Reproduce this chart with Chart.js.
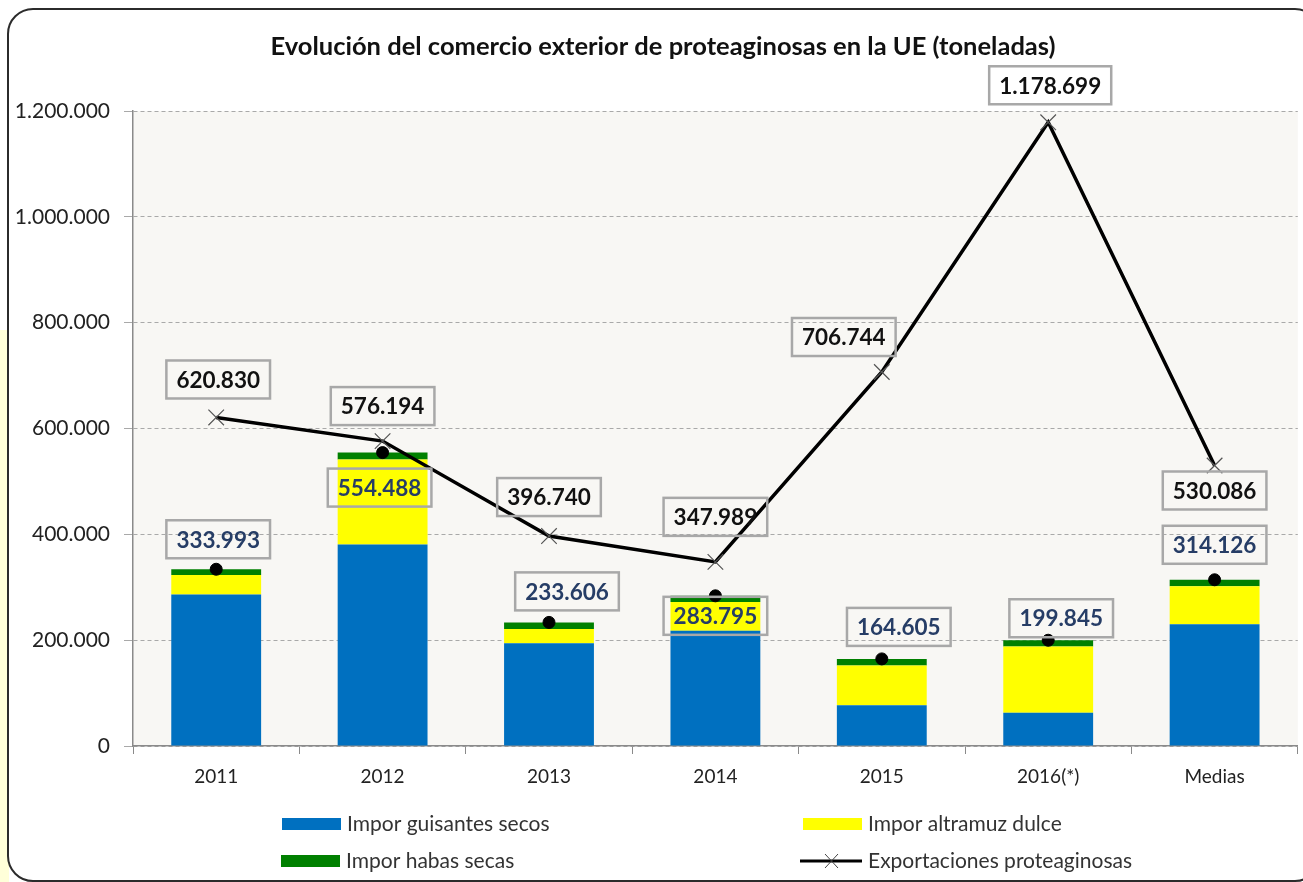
<!DOCTYPE html>
<html>
<head>
<meta charset="utf-8">
<script src="https://cdn.jsdelivr.net/npm/chart.js@4"></script>
<style>
  html, body { margin: 0; padding: 0; background: #fff; overflow: hidden; }
  #strip { position: absolute; left: 0; top: 330px; width: 9px; bottom: 0; background: #ffffd9; }
  #frame { position: absolute; left: 7px; top: 8px; width: 1310px; height: 870px;
           border: 2px solid #2b2b2b; border-radius: 26px; background: #fff; }
  #chart { position: absolute; left: 0; top: 0; }
</style>
</head>
<body>
<div id="strip"></div>
<div id="frame"></div>
<canvas id="chart" width="1310" height="882"></canvas>
<script>
// ===== DATA =====
const years      = ['2011', '2012', '2013', '2014', '2015', '2016(*)', 'Medias'];
const guisantes  = [286500, 381000, 194000, 218000, 77000, 63000, 230000];
const altramuz   = [36500, 160500, 27000, 54000, 75000, 125000, 72000];
const habas      = [10993, 12988, 12606, 11795, 12605, 11845, 12126];
const totalImpor = [333993, 554488, 233606, 283795, 164605, 199845, 314126];
const exportac   = [620830, 576194, 396740, 347989, 706744, 1178699, 530086];
const yTicks     = [0, 200000, 400000, 600000, 800000, 1000000, 1200000];

// label box offsets from their point (px)
const totalOffsets  = [[2, -30], [-3, 35], [18, -31], [0, 20], [17, -32], [13, -22], [0, -35]];
const exportOffsets = [[2, -38], [0, -35], [0, -39], [0, -45], [-38, -35], [2, -37], [0, 25]];

const FONT = 'Lato, "Open Sans", sans-serif';
const PLOT_BG = '#f8f7f4';

function fmt(n) {
  return String(n).replace(/\B(?=(\d{3})+(?!\d))/g, '.');
}

// ===== PLUGINS =====
const plotBg = {
  id: 'plotBg',
  beforeDraw(chart) {
    const { ctx, chartArea: a } = chart;
    ctx.save();
    ctx.fillStyle = PLOT_BG;
    ctx.fillRect(a.left, a.top, a.right - a.left, a.bottom - a.top);
    ctx.restore();
  }
};

function drawBoxLabels(chart, dsIndex, offsets, color) {
  const { ctx } = chart;
  const meta = chart.getDatasetMeta(dsIndex);
  const data = chart.data.datasets[dsIndex].data;
  ctx.save();
  ctx.font = 'bold 22.5px ' + FONT;
  ctx.textAlign = 'center';
  ctx.textBaseline = 'middle';
  meta.data.forEach((pt, i) => {
    const txt = fmt(data[i]);
    const cx = pt.x + offsets[i][0];
    const cy = pt.y + offsets[i][1];
    const w = ctx.measureText(txt).width + 20;
    const h = 38;
    ctx.strokeStyle = '#a8a8a8';
    ctx.lineWidth = 2.5;
    ctx.strokeRect(cx - w / 2, cy - h / 2, w, h);
    ctx.fillStyle = color;
    ctx.fillText(txt, cx, cy + 1);
  });
  ctx.restore();
}

const extras = {
  id: 'extras',
  afterDraw(chart) {
    const { ctx } = chart;
    drawBoxLabels(chart, 3, totalOffsets, '#263d66');
    drawBoxLabels(chart, 4, exportOffsets, '#111');

    // title
    ctx.save();
    ctx.font = 'bold 25.5px ' + FONT;
    ctx.fillStyle = '#111';
    ctx.textAlign = 'center';
    ctx.textBaseline = 'middle';
    ctx.fillText('Evolución del comercio exterior de proteaginosas en la UE (toneladas)', 663, 47);

    // legend
    ctx.font = '21px ' + FONT;
    ctx.textAlign = 'left';
    const ds = chart.data.datasets;
    const items = [
      { d: ds[0], x: 282, y: 824 },
      { d: ds[1], x: 803, y: 824 },
      { d: ds[2], x: 281, y: 861 },
      { d: ds[4], x: 800, y: 861, line: true }
    ];
    items.forEach(it => {
      if (it.line) {
        ctx.strokeStyle = '#000';
        ctx.lineWidth = 3;
        ctx.beginPath(); ctx.moveTo(it.x, it.y); ctx.lineTo(it.x + 62, it.y); ctx.stroke();
        ctx.strokeStyle = '#444';
        ctx.lineWidth = 1;
        ctx.beginPath();
        ctx.moveTo(it.x + 25, it.y - 7); ctx.lineTo(it.x + 38, it.y + 7);
        ctx.moveTo(it.x + 38, it.y - 7); ctx.lineTo(it.x + 25, it.y + 7);
        ctx.stroke();
        ctx.fillStyle = '#333';
        ctx.fillText(it.d.label, it.x + 68, it.y);
      } else {
        ctx.fillStyle = it.d.backgroundColor;
        ctx.fillRect(it.x, it.y - 6, 59, 12);
        ctx.fillStyle = '#333';
        ctx.fillText(it.d.label, 65 + it.x, it.y);
      }
    });
    ctx.restore();
  }
};

// ===== CHART =====
new Chart(document.getElementById('chart'), {
  data: {
    labels: years,
    datasets: [
      { type: 'bar', label: 'Impor guisantes secos', data: guisantes, backgroundColor: '#0070c0', order: 3 },
      { type: 'bar', label: 'Impor altramuz dulce',  data: altramuz,  backgroundColor: '#ffff00', order: 3 },
      { type: 'bar', label: 'Impor habas secas',     data: habas,     backgroundColor: '#008000', order: 3 },
      {
        type: 'line', label: 'Total importaciones', data: totalImpor, stack: 'tot',
        showLine: false, pointRadius: 6, pointBackgroundColor: '#000', pointBorderColor: '#000', order: 1
      },
      {
        type: 'line', label: 'Exportaciones proteaginosas', data: exportac, stack: 'exp',
        borderColor: '#000', borderWidth: 3.5, tension: 0,
        pointStyle: 'crossRot', pointRadius: 11, pointBorderColor: '#555', pointBorderWidth: 1.2,
        order: 2
      }
    ]
  },
  options: {
    responsive: false,
    animation: false,
    datasets: { bar: { barPercentage: 0.54, categoryPercentage: 1 } },
    layout: { padding: { top: 111, right: 5, bottom: 86, left: 0 } },
    plugins: {
      legend: { display: false },
      tooltip: { enabled: false }
    },
    scales: {
      x: {
        stacked: true,
        grid: { offset: true, drawOnChartArea: false, color: '#8a8a8a', tickLength: 8 },
        border: { color: '#8a8a8a', width: 1.5 },
        ticks: { font: { family: FONT, size: 19 }, color: '#222', padding: 11 },
        afterFit(scale) { scale.height = 50; }
      },
      y: {
        stacked: true,
        min: 0, max: 1200000,
        afterBuildTicks(scale) { scale.ticks = yTicks.map(v => ({ value: v })); },
        grid: { color: '#a9a9a9', tickLength: 9, lineWidth: 1 },
        border: { color: '#8a8a8a', width: 1.5, dash: [4, 3] },
        ticks: {
          font: { family: FONT, size: 21 }, color: '#222', padding: 14,
          callback: v => fmt(v)
        },
        afterFit(scale) { scale.width = 133; }
      }
    }
  },
  plugins: [plotBg, extras]
});
</script>
</body>
</html>
